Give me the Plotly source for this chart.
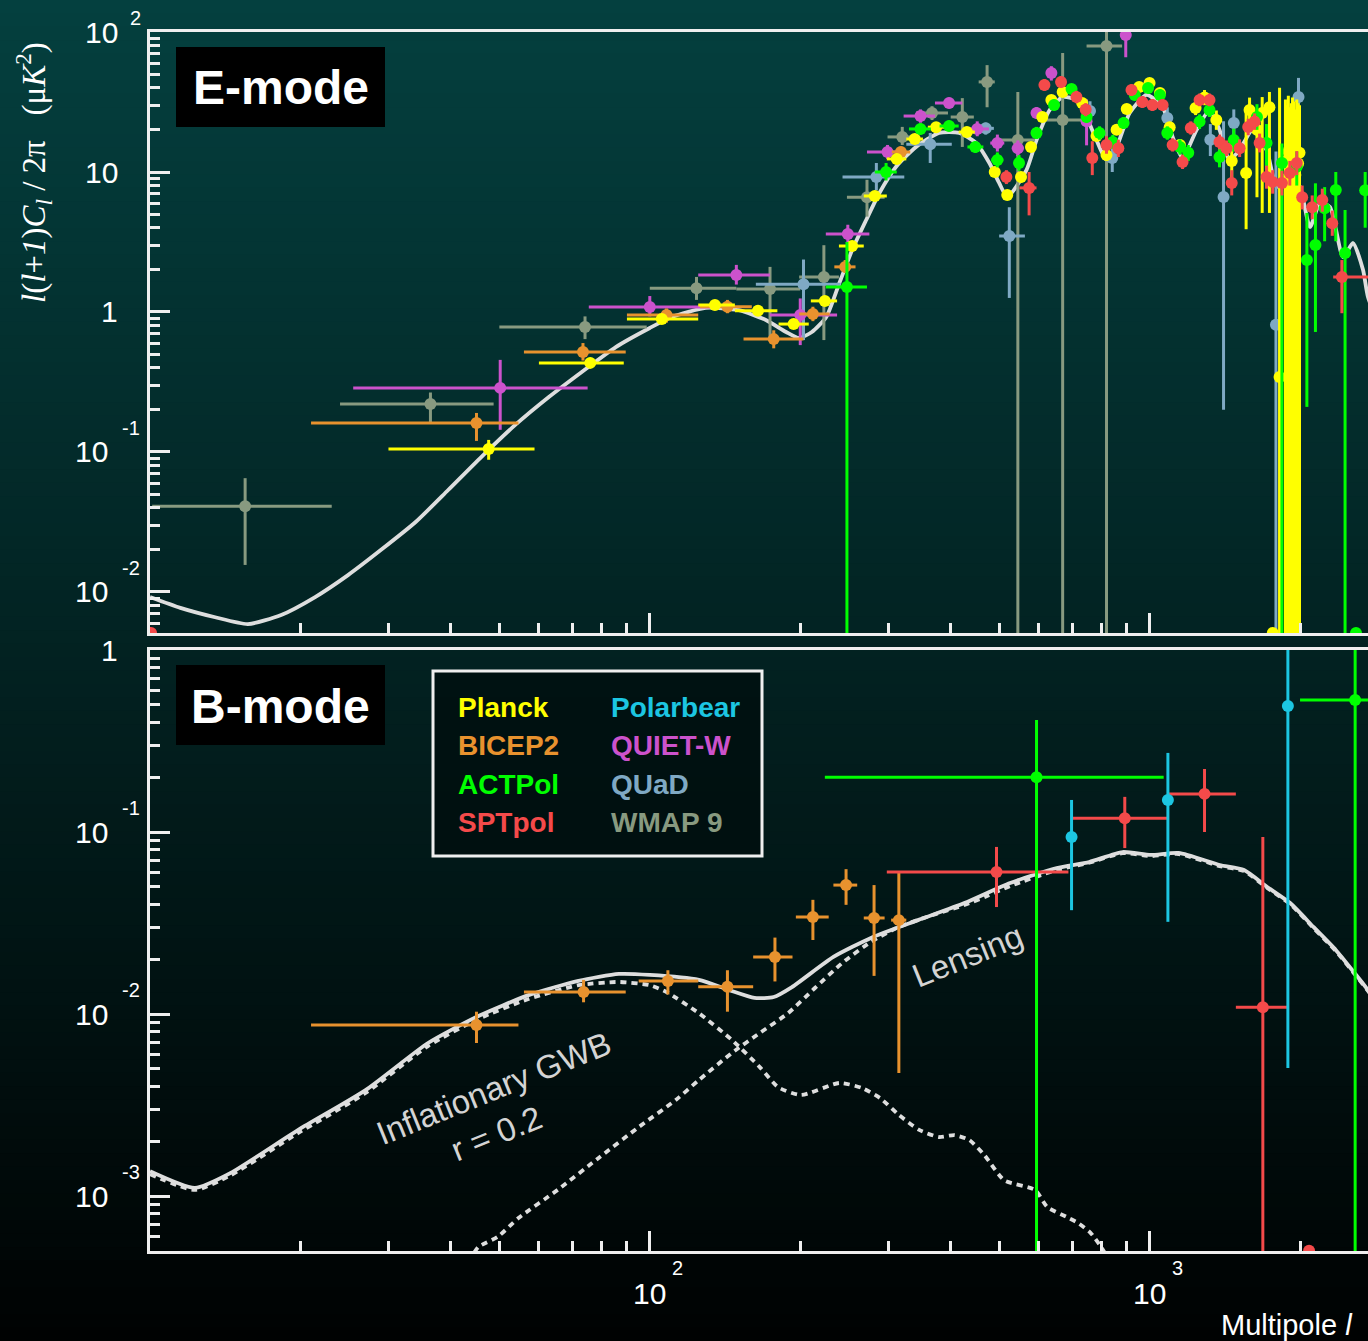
import math
import plotly.graph_objects as go

# ---------------------------------------------------------------------------
# Theory spectra  D_l = l(l+1)C_l/2pi  [muK^2]
# ---------------------------------------------------------------------------
EE_THEORY_ELL = [10.0, 11.5, 13.5, 15.7, 18.3, 21.4, 24.9, 29.0, 34.0, 39.5, 46.0, 53.8,
                 62.8, 73.1, 85.5, 100, 110.7, 129.4, 150.6, 170.7, 187.4, 199, 211, 225.5,
                 239.5, 254, 271, 288, 311, 341, 379, 416, 450, 478, 500, 519, 567, 594,
                 631, 670, 714, 748, 783, 820, 859, 912, 986, 1062, 1112, 1164, 1242, 1318,
                 1380, 1445, 1514, 1607, 1714, 1797, 1908, 2000, 2094, 2193, 2296, 2438,
                 2553, 2673, 2735, 2900]
EE_THEORY = [0.0092, 0.0077, 0.0066, 0.0059, 0.00685, 0.0092, 0.0132, 0.020, 0.0316, 0.0535,
             0.092, 0.156, 0.247, 0.373, 0.562, 0.769, 0.921, 1.07, 1.03, 0.877, 0.72, 0.652,
             0.72, 0.921, 1.61, 2.77, 4.54, 7.08, 10.9, 15.1, 19.0, 19.0, 16.1, 11.6, 8.35,
             6.63, 10.3, 16.9, 27.7, 34.3, 32.7, 24.7, 16.9, 12.2, 15.1, 26.4, 35.5, 29.1,
             17.8, 12.6, 20.0, 27.7, 20.0, 12.2, 14.4, 20.0, 14.4, 7.81, 9.84, 7.81, 4.05,
             6.0, 5.62, 2.47, 3.11, 2.0, 1.28, 0.74]

BB_TOTAL_ELL = [10.0, 12.3, 14.5, 19.8, 27.0, 36.0, 45.4, 57.2, 72.0, 86.7, 100, 125.4, 144,
                162, 177, 192.5, 233, 277, 344, 426, 526, 652, 757, 883, 1005, 1143, 1381,
                1545, 1719, 1911, 2127, 2358, 2571, 2735, 2960]
BB_TOTAL = [0.00137, 0.00111, 0.00134, 0.00231, 0.00382, 0.00693, 0.00975, 0.0127, 0.0152,
            0.0166, 0.0164, 0.0154, 0.01355, 0.01225, 0.0124, 0.01406, 0.0206, 0.0262, 0.0328,
            0.0407, 0.0525, 0.0634, 0.0684, 0.0776, 0.0748, 0.0767, 0.0659, 0.0618, 0.0499,
            0.0407, 0.0301, 0.0225, 0.0168, 0.01355, 0.0100]

BB_GWB_ELL = [10.0, 12.3, 14.5, 19.8, 27.0, 36.0, 45.4, 57.2, 72.0, 86.7, 100, 108, 125.4, 146,
              166, 180.5, 200.7, 239.5, 266, 289, 315, 346, 379, 407, 436, 467, 512, 590, 624,
              681, 720, 761, 794, 833]
BB_GWB = [0.00132, 0.00108, 0.0013, 0.00222, 0.00368, 0.00667, 0.0094, 0.0121, 0.0144, 0.0150,
          0.0144, 0.0132, 0.0101, 0.0072, 0.00511, 0.00397, 0.00359, 0.00418, 0.00392, 0.00345,
          0.00279, 0.00231, 0.00211, 0.00216, 0.00203, 0.00168, 0.00122, 0.00108, 0.00087,
          0.00077, 0.00071, 0.00063, 0.00054, 0.00044]

BB_LENS_ELL = [43.4, 45.4, 49.6, 54.6, 65.7, 79, 95, 112.7, 125.4, 146, 166, 189, 214, 244,
               277, 315, 373, 426, 473, 526, 652, 757, 883, 1005, 1143, 1381, 1545, 1719,
               1911, 2127, 2358, 2571, 2735, 2960]
BB_LENS = [0.000434, 0.000525, 0.000596, 0.000757, 0.00109, 0.00162, 0.00239, 0.00337,
           0.00434, 0.00611, 0.00787, 0.0101, 0.0139, 0.0193, 0.0249, 0.0301, 0.0354, 0.0397,
           0.0445, 0.0505, 0.0618, 0.0678, 0.0765, 0.0738, 0.0757, 0.065, 0.061, 0.0493,
           0.0402, 0.0297, 0.0222, 0.0166, 0.0134, 0.0098]

# ---------------------------------------------------------------------------
# Band powers: (ell, ell_lo, ell_hi, D, D_lo, D_hi); None = no bar
# ---------------------------------------------------------------------------
EE_WMAP9 = [
    (15.5, 10.1, 23.1, 0.041, 0.0156, 0.065),
    (36.4, 24.0, 48.7, 0.22, 0.16, 0.266),
    (74.2, 50.0, 98.6, 0.78, 0.64, 0.93),
    (124, 100, 149, 1.48, 1.22, 1.78),
    (174, 149, 200, 1.46, 0.63, 2.1),
    (223, 199, 239, 1.78, 0.63, 3.0),
    (272, 248, 295, 6.6, 4.8, 8.8),
    (320, 299, 341, 17.8, 15.6, 21.0),
    (367, 341, 395, 26.4, 23.5, 29.5),
    (422, 400, 445, 24.7, 15.1, 33.7),
    (473, 455, 490, 44.0, 29.0, 58.0),
    (545, 500, 590, 16.9, 1e-4, 37.3),
    (670, 620, 731, 23.5, 1e-4, 70.8),
    (820, 748, 881, 79.4, 1e-4, 120.0),
]
EE_QUAD = [
    (203, 163, 241, 1.58, 0.63, 2.37),
    (284, 243, 323, 9.2, 7.4, 11.6),
    (364, 326, 402, 15.8, 11.6, 19.0),
    (470, 455, 488, 20.5, 18.5, 22.5),
    (524, 500, 563, 3.49, 1.26, 5.6),
    (760, 745, 776, 27.3, 22.0, 32.0),
    (842, 830, 855, 12.6, 10.0, 15.6),
    (1085, 1070, 1100, 24.3, 20.0, 29.0),
    (1323, 1300, 1345, 17.0, 13.0, 22.0),
    (1406, 1390, 1420, 6.63, 0.2, 23.0),
    (1474, 1460, 1490, 22.4, 18.0, 28.0),
    (1790, 1780, 1800, 0.81, 1e-4, 14.0),
    (1986, 1970, 2000, 34.3, 5.0, 47.0),
]
EE_QUIETW = [
    (50.2, 25.5, 75.1, 0.287, 0.144, 0.455),
    (100, 75.5, 132, 1.086, 0.93, 1.3),
    (149, 125, 174, 1.84, 1.57, 2.17),
    (200, 174, 237, 0.95, 0.58, 1.25),
    (249, 225, 275, 3.6, 3.1, 4.2),
    (299, 272, 322, 13.9, 12.4, 15.6),
    (348, 322, 372, 25.1, 22.5, 28.0),
    (397, 372, 422, 31.1, 28.5, 34.0),
    (452, 427, 477, 20.3, 18.0, 23.0),
    (496, 480, 512, 16.1, 14.0, 18.5),
    (545, 530, 560, 14.8, 13.0, 16.8),
    (594, 580, 608, 26.4, 24.0, 29.0),
    (636, 622, 650, 51.0, 45.0, 57.0),
    (748, 735, 760, 23.0, 15.5, 33.0),
    (896, 880, 912, 95.0, 66.0, 100.0),
]
EE_BICEP2 = [
    (45, 21.0, 54.6, 0.161, 0.12, 0.19),
    (73.5, 56, 89.5, 0.518, 0.45, 0.60),
    (108, 90, 125, 0.95, 0.84, 1.06),
    (143, 126, 160, 1.09, 0.98, 1.22),
    (177, 154, 203, 0.64, 0.55, 0.74),
    (212, 199, 229, 0.968, 0.86, 1.09),
    (246, 234, 258, 2.1, 1.9, 2.35),
    (318, 305, 332, 13.9, 12.8, 15.2),
]
EE_PLANCK = [
    (47.6, 30, 58.8, 0.105, 0.088, 0.122),
    (76, 60, 88.7, 0.433, 0.40, 0.47),
    (105.7, 90, 125, 0.89, 0.85, 0.93),
    (135, 125, 148, 1.12, 1.07, 1.17),
    (164.6, 148, 180, 1.02, 0.97, 1.07),
    (194, 181, 208, 0.82, 0.77, 0.87),
    (224, 210, 237, 1.2, 1.13, 1.27),
    (254, 239, 268, 2.96, 2.8, 3.12),
    (282, 268, 298, 6.74, 6.4, 7.1),
    (312, 298, 326, 12.4, 11.8, 13.0),
    (339, 326, 352, 17.2, 16.4, 18.0),
    (374, 360, 390, 20.9, 20.0, 21.8),
    (431, 415, 447, 19.3, 18.4, 20.2),
    (490, 478, 502, 10.0, 9.5, 10.5),
    (519, 510, 528, 6.85, 6.5, 7.2),
    (553, None, None, 9.2, 8.4, 10.0),
    (579, None, None, 15.1, 14.0, 16.3),
    (610, None, None, 24.7, 23.0, 26.5),
    (636, None, None, 32.7, 30.5, 35.0),
    (670, None, None, 37.3, 35.0, 40.0),
    (733, None, None, 31.1, 29.0, 33.5),
    (783, None, None, 18.1, 16.8, 19.5),
    (820, None, None, 13.2, 12.0, 14.5),
    (859, None, None, 20.0, 18.5, 21.6),
    (900, None, None, 28.2, 26.3, 30.2),
    (953, None, None, 40.5, 38.0, 43.0),
    (1000, None, None, 43.3, 40.5, 46.0),
    (1049, None, None, 36.6, 34.0, 39.5),
    (1097, None, None, 20.9, 19.2, 22.8),
    (1150, None, None, 15.6, 14.2, 17.2),
    (1236, None, None, 28.7, 25.5, 32.3),
    (1288, None, None, 34.0, 30.0, 38.5),
    (1360, None, None, 23.5, 20.0, 27.5),
    (1460, None, None, 12.0, 9.0, 16.0),
    (1560, None, None, 9.84, 3.9, 29.0),
    (1585, None, None, 27.7, 22.0, 34.0),
    (1640, None, None, 20.0, 6.6, 26.4),
    (1680, None, None, 26.4, 5.1, 34.3),
    (1737, None, None, 29.0, 5.1, 37.3),
    (1764, None, None, 0.0051, None, None),
    (1820, None, None, 0.343, 1e-4, 40.0),
    (1870, None, None, 12.0, 1e-4, 33.0),
    (1882, None, None, 9.0, 1e-4, 30.0),
    (1895, None, None, 14.0, 1e-4, 35.0),
    (1907, None, None, 11.0, 1e-4, 29.0),
    (1920, None, None, 10.0, 1e-4, 31.0),
    (1932, None, None, 12.5, 1e-4, 34.0),
    (1935, None, None, 0.0051, None, None),
    (1945, None, None, 16.0, 1e-4, 32.0),
    (1957, None, None, 9.5, 1e-4, 28.0),
    (1970, None, None, 13.7, 1e-4, 33.0),
    (1982, None, None, 11.5, 1e-4, 31.0),
    (1995, None, None, 13.7, 1e-4, 30.0),
]
EE_ACTPOL = [
    (248, 225, 272, 1.51, 1e-4, 3.16),
    (297, 282, 312, 10.0, 8.7, 11.6),
    (348, 330, 365, 20.3, 18.5, 22.3),
    (397, 380, 415, 21.3, 19.5, 23.3),
    (448, 432, 465, 15.1, 13.7, 16.6),
    (496, 482, 510, 12.2, 10.8, 13.8),
    (548, None, None, 11.6, 10.2, 13.2),
    (594, None, None, 19.0, 17.2, 21.0),
    (644, None, None, 30.1, 27.5, 33.0),
    (698, None, None, 39.2, 36.0, 42.5),
    (748, None, None, 24.7, 22.5, 27.0),
    (794, None, None, 19.0, 17.0, 21.2),
    (844, None, None, 16.4, 14.6, 18.4),
    (887, None, None, 22.4, 20.3, 24.7),
    (934, None, None, 35.5, 32.5, 38.8),
    (993, None, None, 39.8, 36.5, 43.4),
    (1049, None, None, 35.5, 32.3, 39.0),
    (1085, None, None, 19.0, 17.0, 21.2),
    (1150, None, None, 15.1, 13.3, 17.1),
    (1195, None, None, 13.7, 12.0, 15.6),
    (1259, None, None, 22.9, 20.3, 25.8),
    (1318, None, None, 27.7, 24.7, 31.0),
    (1380, None, None, 12.8, 10.8, 15.2),
    (1474, None, None, 16.9, 14.0, 20.4),
    (1640, None, None, 24.7, 20.0, 30.5),
    (1714, None, None, 16.1, 10.5, 22.0),
    (1840, None, None, 11.6, 1e-4, 16.0),
    (1970, None, None, 10.9, 8.0, 14.0),
    (2064, None, None, 2.35, 0.21, 5.1),
    (2147, None, None, 3.01, 0.72, 8.3),
    (2240, None, None, 5.5, 3.2, 7.8),
    (2358, None, None, 7.43, 3.2, 10.0),
    (2461, None, None, 2.64, 1e-4, 5.35),
    (2588, None, None, 0.0051, None, None),
    (2700, None, None, 7.4, 4.0, 10.0),
]
EE_SPTPOL = [
    (10.05, None, None, 0.0051, None, None),
    (517, None, None, 9.2, 8.2, 10.3),
    (574, 549, 594, 7.7, 4.9, 10.0),
    (616, None, None, 41.8, 38.0, 46.0),
    (665, None, None, 44.0, 40.0, 48.5),
    (714, None, None, 34.3, 31.0, 38.0),
    (745, None, None, 28.0, 25.0, 31.0),
    (768, None, None, 12.6, 9.5, 16.6),
    (820, None, None, 15.6, 13.5, 18.0),
    (866, None, None, 14.8, 12.8, 17.0),
    (920, None, None, 38.5, 35.0, 42.3),
    (967, None, None, 31.6, 28.7, 34.8),
    (1013, None, None, 30.1, 27.3, 33.2),
    (1062, None, None, 30.1, 27.3, 33.2),
    (1112, None, None, 15.6, 14.0, 17.4),
    (1164, None, None, 11.8, 10.5, 13.3),
    (1209, None, None, 20.6, 18.5, 23.0),
    (1259, None, None, 32.7, 29.5, 36.3),
    (1318, None, None, 32.7, 29.5, 36.3),
    (1380, None, None, 16.4, 14.5, 18.5),
    (1425, None, None, 14.8, 13.0, 16.8),
    (1460, None, None, 8.35, 6.8, 10.3),
    (1514, None, None, 14.8, 12.8, 17.1),
    (1575, None, None, 21.0, 18.3, 24.0),
    (1622, None, None, 22.9, 20.0, 26.2),
    (1660, None, None, 16.1, 13.8, 18.8),
    (1714, None, None, 9.2, 7.6, 11.1),
    (1763, None, None, 8.5, 7.0, 10.3),
    (1840, None, None, 8.35, 6.8, 10.2),
    (1908, None, None, 9.84, 8.0, 12.0),
    (1970, None, None, 11.6, 9.5, 14.1),
    (2020, None, None, 6.6, 5.4, 8.0),
    (2115, None, None, 5.6, 4.6, 6.8),
    (2216, None, None, 6.3, 5.2, 7.6),
    (2320, None, None, 4.3, 3.5, 5.3),
    (2425, 2330, 2800, 1.78, 0.98, 2.35),
]

BB_BICEP2 = [
    (45, 21.0, 54.6, 0.0087, 0.00693, 0.0103),
    (73.7, 56, 89.5, 0.0132, 0.0116, 0.0154),
    (108.7, 95, 125, 0.0152, 0.0128, 0.0174),
    (143, 125, 161, 0.0141, 0.0103, 0.0174),
    (178, 161, 193, 0.0206, 0.0151, 0.0263),
    (212, 196, 228, 0.0341, 0.0255, 0.0424),
    (247, 233, 260, 0.0511, 0.0398, 0.0625),
    (281, 268, 295, 0.0337, 0.0162, 0.0511),
    (315, 304, 326, 0.0328, 0.00474, 0.0604),
]
BB_SPTPOL = [
    (494, 298, 688, 0.0603, 0.0387, 0.0828),
    (892, 698, 1091, 0.119, 0.0816, 0.156),
    (1288, 1091, 1488, 0.162, 0.100, 0.222),
    (1685, 1488, 1890, 0.0109, 1e-6, 0.094),
    (2085, None, None, 0.0005, None, None),
]
BB_ACTPOL = [
    (594, 224, 1067, 0.200, 1e-6, 0.412),
    (2578, 2000, 3300, 0.531, 1e-6, 5.0),
]
BB_POLARBEAR = [
    (698, None, None, 0.094, 0.0372, 0.150),
    (1088, None, None, 0.150, 0.0321, 0.272),
    (1891, None, None, 0.492, 0.00505, 5.0),
]

EXPERIMENTS = ["Planck", "BICEP2", "ACTPol", "SPTpol", "Polarbear", "QUIET-W", "QUaD", "WMAP 9"]
COLORS = {
    "Planck": "#ffff00",
    "BICEP2": "#e8922e",
    "ACTPol": "#00ff00",
    "SPTpol": "#f44a4a",
    "Polarbear": "#1cc6e2",
    "QUIET-W": "#cc52cc",
    "QUaD": "#7fa9c4",
    "WMAP 9": "#889a80",
}

X_RANGE = [1.0, 3.437]
Y_RANGE_E = [-2.293, 2.0]
Y_RANGE_B = [-3.302, 0.0]

# ---------------------------------------------------------------------------
# Page geometry
# ---------------------------------------------------------------------------
W, H = 1368, 1341
ML, MR, MT, MB = 150, 0, 32, 90
PW, PH = W - ML - MR, H - MT - MB


def fx(px):
    return (px - ML) / PW


def fy(py):
    return (H - MB - py) / PH


FONT = "Liberation Sans, Arial, Helvetica, sans-serif"
AXIS_COL = "#efefef"
CURVE_COL = "#dedede"

fig = go.Figure()

# dark teal-to-black backdrop
N_BANDS = 100
top_rgb, bot_rgb = (4, 64, 63), (0, 2, 2)
for i in range(N_BANDS):
    t = (i + 0.5) / N_BANDS
    c = tuple(round(a + (b - a) * t) for a, b in zip(top_rgb, bot_rgb))
    fig.add_shape(type="rect", xref="paper", yref="paper", layer="below",
                  x0=fx(0), x1=fx(W + 2),
                  y0=fy(H * (i + 1) / N_BANDS + 1), y1=fy(H * i / N_BANDS),
                  line=dict(width=0), fillcolor="rgb(%d,%d,%d)" % c)


def curve(ell, val, xa, ya, dash=None):
    fig.add_trace(go.Scatter(
        x=ell, y=val, mode="lines", xaxis=xa, yaxis=ya, showlegend=False,
        line=dict(color=CURVE_COL, width=3.8, shape="spline", smoothing=0.6,
                  dash=dash), hoverinfo="skip"))


def points(rows, name, xa, ya):
    col = COLORS[name]
    ell = [r[0] for r in rows]
    val = [r[3] for r in rows]
    exp_ = [(r[2] - r[0]) if r[2] is not None else 0 for r in rows]
    exm = [(r[0] - r[1]) if r[1] is not None else 0 for r in rows]
    eyp = [(r[5] - r[3]) if r[5] is not None else 0 for r in rows]
    eym = [(r[3] - r[4]) if r[4] is not None else 0 for r in rows]
    fig.add_trace(go.Scatter(
        x=ell, y=val, mode="markers", xaxis=xa, yaxis=ya, name=name, showlegend=False,
        marker=dict(color=col, size=12, line=dict(width=0)),
        error_x=dict(type="data", symmetric=False, array=exp_, arrayminus=exm,
                     color=col, thickness=3, width=0),
        error_y=dict(type="data", symmetric=False, array=eyp, arrayminus=eym,
                     color=col, thickness=3, width=0)))


# E-mode panel
curve(EE_THEORY_ELL, EE_THEORY, "x", "y")
points(EE_WMAP9, "WMAP 9", "x", "y")
points(EE_QUAD, "QUaD", "x", "y")
points(EE_QUIETW, "QUIET-W", "x", "y")
points(EE_BICEP2, "BICEP2", "x", "y")
points(EE_PLANCK, "Planck", "x", "y")
points(EE_ACTPOL, "ACTPol", "x", "y")
points(EE_SPTPOL, "SPTpol", "x", "y")

# B-mode panel
curve(BB_GWB_ELL, BB_GWB, "x2", "y2", dash="6px,5px")
curve(BB_LENS_ELL, BB_LENS, "x2", "y2", dash="6px,5px")
curve(BB_TOTAL_ELL, BB_TOTAL, "x2", "y2")
points(BB_BICEP2, "BICEP2", "x2", "y2")
points(BB_SPTPOL, "SPTpol", "x2", "y2")
points(BB_POLARBEAR, "Polarbear", "x2", "y2")
points(BB_ACTPOL, "ACTPol", "x2", "y2")

# ---------------------------------------------------------------------------
# Axes
# ---------------------------------------------------------------------------
x_minor = [m * 10 ** e for e in (1, 2, 3) for m in range(2, 10)]


def y_minor(lo, hi):
    return [m * 10.0 ** e for e in range(lo, hi) for m in range(2, 10)]


def xaxis_cfg(anchor):
    return dict(type="log", range=X_RANGE, domain=[0, 1], anchor=anchor,
                showline=True, linecolor=AXIS_COL, linewidth=3, mirror=True,
                ticks="inside", tickvals=[10, 100, 1000], ticklen=20, tickwidth=2.5,
                tickcolor=AXIS_COL, showticklabels=False, showgrid=False, zeroline=False,
                minor=dict(ticks="inside", tickvals=x_minor, ticklen=10, tickwidth=2.5,
                           tickcolor=AXIS_COL, showgrid=False))


def yaxis_cfg(anchor, rng, dom, decades, lo, hi):
    return dict(type="log", range=rng, domain=dom, anchor=anchor,
                showline=True, linecolor=AXIS_COL, linewidth=3, mirror=False,
                ticks="inside", tickvals=decades, ticklen=20, tickwidth=2.5,
                tickcolor=AXIS_COL, showticklabels=False, showgrid=False, zeroline=False,
                minor=dict(ticks="inside", tickvals=y_minor(lo, hi), ticklen=10,
                           tickwidth=2.5, tickcolor=AXIS_COL, showgrid=False))


fig.update_layout(
    width=W, height=H, margin=dict(l=ML, r=MR, t=MT, b=MB, pad=0),
    paper_bgcolor="#000000", plot_bgcolor="rgba(0,0,0,0)",
    font=dict(family=FONT, color="white"),
    xaxis=xaxis_cfg("y"),
    xaxis2=xaxis_cfg("y2"),
    yaxis=yaxis_cfg("x", Y_RANGE_E, [fy(633), 1.0], [0.01, 0.1, 1, 10, 100], -3, 2),
    yaxis2=yaxis_cfg("x2", Y_RANGE_B, [0.0, fy(650)], [0.001, 0.01, 0.1, 1], -4, 0),
    showlegend=False,
)

ann = []
TICK_SIZE, SUP_SIZE = 30, 20


# y tick labels: plain numbers and powers of ten
def ylabel(yref, exp, plain=None):
    if plain is not None:
        ann.append(dict(xref="paper", yref=yref, x=fx(120), y=exp, text=plain,
                        xanchor="right", yanchor="middle", showarrow=False,
                        font=dict(size=TICK_SIZE, color="white")))
        return
    right = 120 if exp > 0 else 110
    ann.append(dict(xref="paper", yref=yref, x=fx(right), y=exp, text="10",
                    xanchor="right", yanchor="middle", showarrow=False,
                    font=dict(size=TICK_SIZE, color="white")))
    ann.append(dict(xref="paper", yref=yref, x=fx(128 if exp > 0 else 120), y=exp,
                    text=str(exp), xanchor="left", yanchor="middle", showarrow=False,
                    yshift=14 if exp > 0 else 24,
                    font=dict(size=SUP_SIZE, color="white")))


ylabel("y", 2)
ylabel("y", 1, "10")
ylabel("y", 0, "1")
ylabel("y", -1)
ylabel("y", -2)
ylabel("y2", 0, "1")
ylabel("y2", -1)
ylabel("y2", -2)
ylabel("y2", -3)

# x tick labels
for e in (2, 3):
    ann.append(dict(xref="x2", yref="paper", x=e, y=fy(1294), text="10",
                    xanchor="center", yanchor="middle", showarrow=False,
                    font=dict(size=TICK_SIZE, color="white")))
    ann.append(dict(xref="x2", yref="paper", x=e, y=fy(1268), text=str(e),
                    xanchor="center", yanchor="middle", showarrow=False, xshift=28,
                    font=dict(size=SUP_SIZE, color="white")))

# axis titles
ann.append(dict(xref="paper", yref="paper", x=fx(34), y=fy(173), textangle=-90,
                text="<i>l</i>(<i>l</i>+<i>1</i>)<i>C</i><sub><i>l</i></sub> / 2π"
                     "\u00a0\u00a0\u00a0(μ<i>K</i><sup>2</sup>)",
                showarrow=False, xanchor="center", yanchor="middle",
                font=dict(family="Liberation Serif, Times New Roman, serif", size=33,
                          color="white")))
ann.append(dict(xref="paper", yref="paper", x=fx(1219), y=fy(1325),
                text="Multipole <i>l</i>", showarrow=False, xanchor="left",
                yanchor="middle", font=dict(size=29, color="white")))

# panel tags
for label, y0, y1 in (("E-mode", 47, 127), ("B-mode", 665, 745)):
    fig.add_shape(type="rect", xref="paper", yref="paper", x0=fx(176), x1=fx(385),
                  y0=fy(y1), y1=fy(y0), fillcolor="black", line=dict(width=0))
    ann.append(dict(xref="paper", yref="paper", x=fx(280.5), y=fy((y0 + y1) / 2 + 1),
                    text="<b>%s</b>" % label, showarrow=False, xanchor="center",
                    yanchor="middle", font=dict(size=48, color="white")))

# experiment key
fig.add_shape(type="rect", xref="paper", yref="paper", x0=fx(433), x1=fx(762),
              y0=fy(856), y1=fy(671), fillcolor="rgba(0,14,14,0.75)",
              line=dict(color=AXIS_COL, width=3))
key_x = [456, 609]
key_y = [707, 745, 784, 822]
for i, name in enumerate(EXPERIMENTS):
    ann.append(dict(xref="paper", yref="paper", x=fx(key_x[i // 4]), y=fy(key_y[i % 4]),
                    text="<b>%s</b>" % name, showarrow=False, xanchor="left",
                    yanchor="middle", font=dict(size=28, color=COLORS[name])))

# curve labels
LABEL_COL = "#d4d4d4"
for text, cx, cy in (("Inflationary GWB", 493, 1088), ("r = 0.2", 496, 1133),
                     ("Lensing", 968, 956)):
    ann.append(dict(xref="paper", yref="paper", x=fx(cx), y=fy(cy), text=text,
                    textangle=-22, showarrow=False, xanchor="center", yanchor="middle",
                    font=dict(size=33, color=LABEL_COL)))

fig.update_layout(annotations=ann)
fig.write_html("out.html")
